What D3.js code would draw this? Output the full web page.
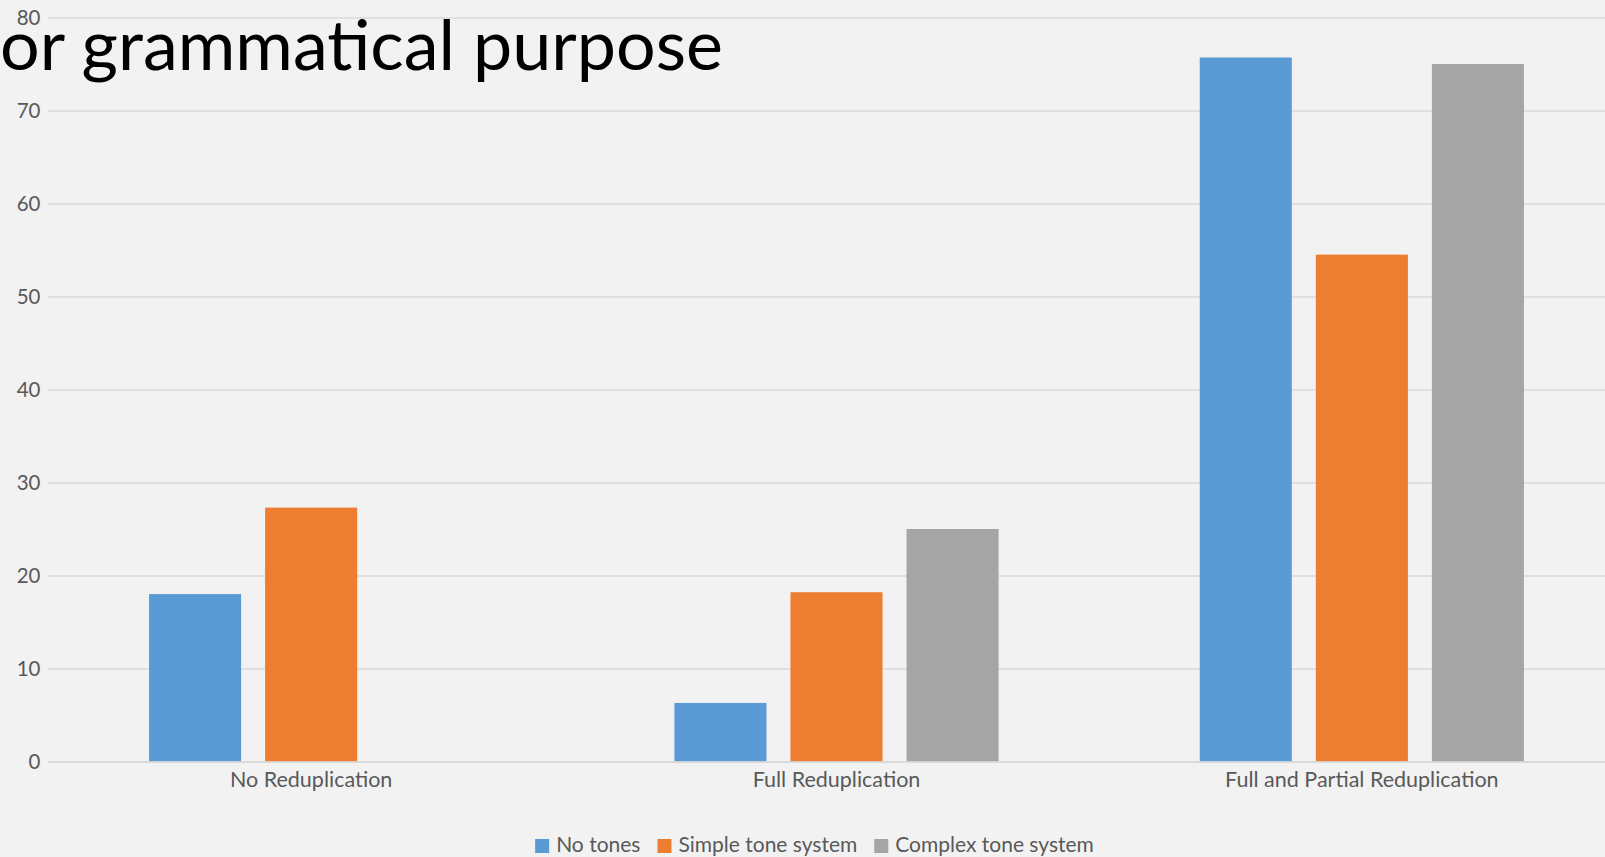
<!DOCTYPE html>
<html>
<head>
<meta charset="utf-8">
<script src="https://cdnjs.cloudflare.com/ajax/libs/d3/7.8.5/d3.min.js"></script>
<style>
  html, body { margin: 0; padding: 0; background: #f2f2f2; overflow: hidden; }
  svg { display: block; }
</style>
</head>
<body>
<svg id="chart" width="1605" height="857"></svg>
<script>
// Reduplication type vs. tone system (counts)
const categories = ["No Reduplication", "Full Reduplication", "Full and Partial Reduplication"];
const seriesNames = ["No tones", "Simple tone system", "Complex tone system"];
const noTones = [18.0, 6.3, 75.7];
const simpleTones = [27.3, 18.2, 54.5];
const complexTones = [0, 25.0, 75.0];
const yTicks = [0, 10, 20, 30, 40, 50, 60, 70, 80];
const titleText = "or grammatical purpose";

const seriesValues = [noTones, simpleTones, complexTones];
const colors = ["#5b9bd5", "#ed7d31", "#a5a5a5"];

const W = 1605, H = 857;
const svg = d3.select("#chart");
svg.append("rect").attr("width", W).attr("height", H).attr("fill", "#f2f2f2");

const plot = { left: 48.5, right: 1624.5, top: 17.5, bottom: 761.5 };

const y = d3.scaleLinear().domain([0, 80]).range([plot.bottom, plot.top]);
const x0 = d3.scaleBand().domain(categories).range([plot.left, plot.right])
  .paddingInner(0.3829).paddingOuter(0.1914);
const x1 = d3.scaleBand().domain(seriesNames).range([0, x0.bandwidth()])
  .paddingInner(0.2069).paddingOuter(0);

const font = "Lato, 'Open Sans', sans-serif";

// horizontal gridlines
const yAxis = d3.axisLeft(y).tickValues(yTicks).tickSize(-(plot.right - plot.left)).tickPadding(8);
const gy = svg.append("g").attr("transform", `translate(${plot.left},0)`).call(yAxis);
gy.select(".domain").remove();
gy.selectAll(".tick line").attr("stroke", "#d9d9d9").attr("stroke-width", 1.5);
gy.selectAll(".tick text").attr("fill", "#595959").attr("font-family", font).attr("font-size", 20.5);

// bars
const groups = svg.append("g").selectAll("g").data(categories).join("g")
  .attr("transform", d => `translate(${x0(d)},0)`);
groups.selectAll("rect")
  .data((c, ci) => seriesNames.map((s, si) => ({ s, si, v: seriesValues[si][ci] })))
  .join("rect")
  .attr("x", d => x1(d.s))
  .attr("width", x1.bandwidth())
  .attr("y", d => y(d.v))
  .attr("height", d => y(0) - y(d.v))
  .attr("fill", d => colors[d.si]);

// category axis
const xAxis = d3.axisBottom(x0).tickSize(0).tickPadding(10);
const gx = svg.append("g").attr("transform", `translate(0,${plot.bottom})`).call(xAxis);
gx.select(".domain").attr("stroke", "#d9d9d9").attr("stroke-width", 1.5);
gx.selectAll(".tick text").attr("fill", "#595959").attr("font-family", font).attr("font-size", 21.5);

// legend
const legend = svg.append("g");
let lx = 0;
const itemGap = 17;
seriesNames.forEach((name, i) => {
  const g = legend.append("g");
  g.append("rect").attr("x", 0).attr("y", -6).attr("width", 14).attr("height", 14).attr("fill", colors[i]);
  const t = g.append("text").attr("x", 21).attr("y", 0).attr("dy", "0.35em")
    .attr("fill", "#595959").attr("font-family", font).attr("font-size", 21).text(name);
  const w = 21 + t.node().getComputedTextLength();
  g.attr("transform", `translate(${lx},0)`);
  lx += w + itemGap;
});
const legendW = lx - itemGap;
legend.attr("transform", `translate(${(533 + 1096) / 2 - legendW / 2},845)`);

// title fragment
svg.append("text").attr("x", 0).attr("y", 70)
  .attr("fill", "#000").attr("font-family", font).attr("font-size", 70)
  .text(titleText);
</script>
</body>
</html>
